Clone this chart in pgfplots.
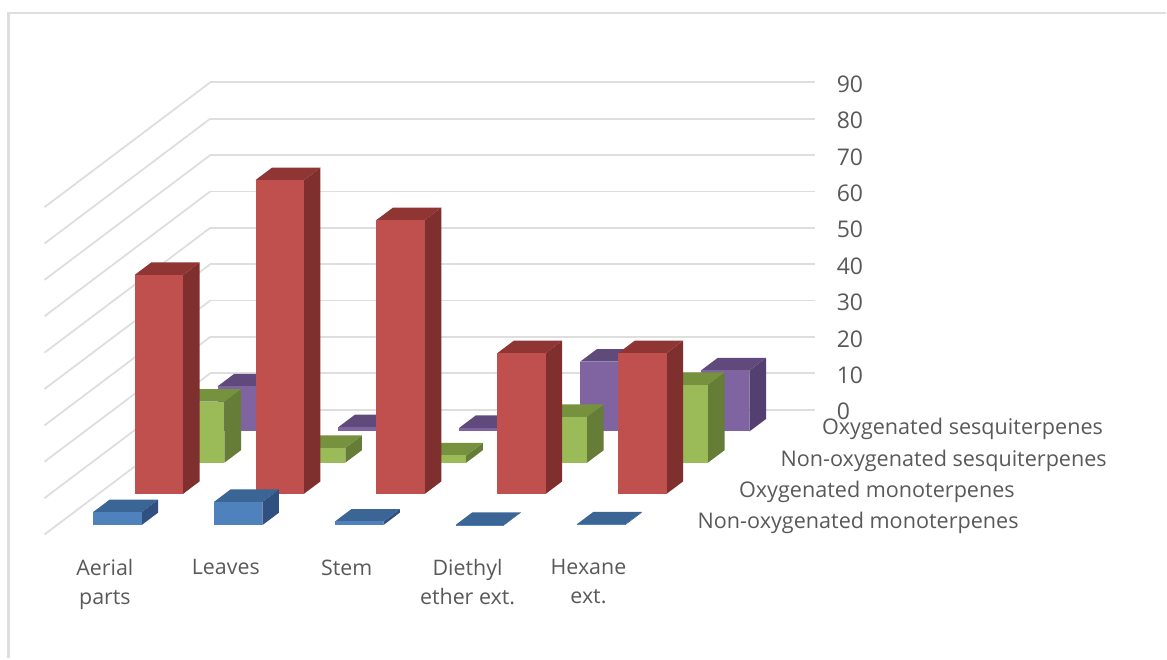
\documentclass[border=0pt]{standalone}
\usepackage{pgfplots}
\pgfplotsset{compat=1.18}
\usepackage{fontspec}
\setmainfont{Open Sans}

\definecolor{blueF}{HTML}{4F81BD}\definecolor{blueS}{HTML}{30517F}\definecolor{blueT}{HTML}{3A6595}
\definecolor{redF}{HTML}{C0504D}\definecolor{redS}{HTML}{7F2F2D}\definecolor{redT}{HTML}{8F3533}
\definecolor{greenF}{HTML}{9BBB59}\definecolor{greenS}{HTML}{657D36}\definecolor{greenT}{HTML}{76923F}
\definecolor{purpleF}{HTML}{8064A2}\definecolor{purpleS}{HTML}{533F70}\definecolor{purpleT}{HTML}{604A7B}
\definecolor{gridgray}{HTML}{DEDEDE}
\definecolor{labelgray}{HTML}{595959}

% One block: category index, series index, value, palette name
\newcommand{\block}[4]{%
  \pgfmathsetmacro\xa{#1+0.3}\pgfmathsetmacro\xb{#1+0.7}%
  \pgfmathsetmacro\ya{#2+0.3}\pgfmathsetmacro\yb{#2+0.7}%
  \edef\drawblock{%
    \noexpand\addplot3[fill=#4S,draw=none,no markers,forget plot] coordinates
      {(\xb,\ya,0) (\xb,\yb,0) (\xb,\yb,#3) (\xb,\ya,#3)} -- cycle;
    \noexpand\addplot3[fill=#4T,draw=none,no markers,forget plot] coordinates
      {(\xa,\ya,#3) (\xb,\ya,#3) (\xb,\yb,#3) (\xa,\yb,#3)} -- cycle;
    \noexpand\addplot3[fill=#4F,draw=none,no markers,forget plot] coordinates
      {(\xa,\ya,0) (\xb,\ya,0) (\xb,\ya,#3) (\xa,\ya,#3)} -- cycle;
  }\drawblock
}

\begin{document}
\begin{tikzpicture}[x=0.5pt,y=0.5pt]
  \path (0,0) rectangle (1167,659);
  % chart frame
  \draw[gridgray,line width=1.1pt] (8.5,0) -- (8.5,646) -- (1167,646);
  \begin{axis}[
    at={(22.25pt,62pt)}, anchor=origin,
    x={(60.5pt,0pt)}, y={(20.75pt,15.625pt)}, z={(0pt,1.82pt)},
    xmin=0, xmax=5, ymin=0, ymax=4, zmin=0, zmax=90,
    clip=false,
    axis line style={draw=none},
    tick style={draw=none},
    major tick length=0pt,
    xtick={0.5,1.5,2.5,3.5,4.5},
    xticklabels={{Aerial\\parts},Leaves,Stem,{Diethyl\\ether ext.},{Hexane\\ext.}},
    x tick label style={align=center,anchor=north,yshift=-9pt,font=\fontsize{10.7}{14.5}\selectfont,text=labelgray},
    ytick={0.5,1.5,2.5,3.5},
    yticklabels={Non-oxygenated monoterpenes,Oxygenated monoterpenes,Non-oxygenated sesquiterpenes,Oxygenated sesquiterpenes},
    yticklabel pos=left,
    y tick label style={anchor=west,xshift=10.5pt,yshift=-2pt,font=\fontsize{10.8}{13}\selectfont,text=labelgray},
    ztick={0,10,...,90},
    zticklabel pos=right,
    z tick label style={anchor=west,xshift=7.5pt,yshift=-1pt,font=\fontsize{11.5}{14}\selectfont,text=labelgray},
    /pgf/number format/assume math mode=true,
    zmajorgrids=true, xmajorgrids=false, ymajorgrids=false,
    major grid style={gridgray,line width=0.9pt},
  ]
    % Oxygenated sesquiterpenes
    \block{0}{3}{12.4}{purple}
    \block{1}{3}{1.2}{purple}
    \block{2}{3}{1.0}{purple}
    \block{3}{3}{19.2}{purple}
    \block{4}{3}{16.8}{purple}
    % Non-oxygenated sesquiterpenes
    \block{0}{2}{16.8}{green}
    \block{1}{2}{4.1}{green}
    \block{2}{2}{2.0}{green}
    \block{3}{2}{12.6}{green}
    \block{4}{2}{21.4}{green}
    % Oxygenated monoterpenes
    \block{0}{1}{60.2}{red}
    \block{1}{1}{86.3}{red}
    \block{2}{1}{75.3}{red}
    \block{3}{1}{38.7}{red}
    \block{4}{1}{38.7}{red}
    % Non-oxygenated monoterpenes
    \block{0}{0}{3.6}{blue}
    \block{1}{0}{6.4}{blue}
    \block{2}{0}{1.0}{blue}
    \block{3}{0}{0.1}{blue}
    \block{4}{0}{0.2}{blue}
  \end{axis}
\end{tikzpicture}
\end{document}
